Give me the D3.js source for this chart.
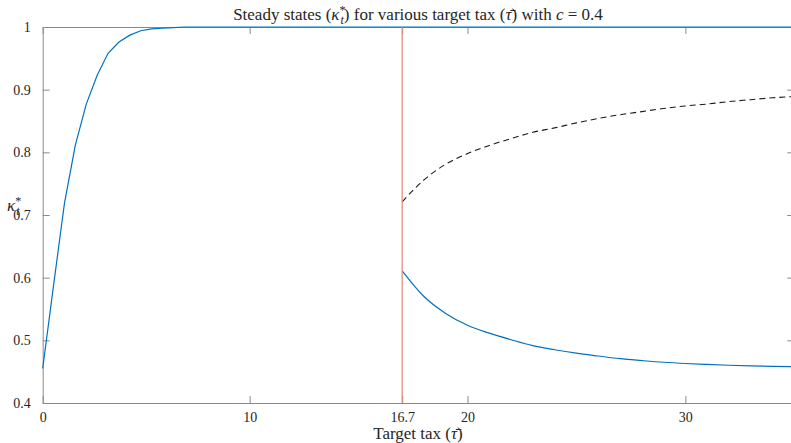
<!DOCTYPE html>
<html>
<head>
<meta charset="utf-8">
<script src="https://cdn.jsdelivr.net/npm/d3@7"></script>
<style>
  body { margin: 0; background: #fff; }
  svg { display: block; }
  text { font-family: "Liberation Serif", "DejaVu Serif", serif; fill: #262626; }
</style>
</head>
<body>
<svg id="chart"></svg>
<script>
// stable steady state, upper branch
const upperTau = [0.5, 1, 1.5, 2, 2.5, 3, 3.5, 4, 4.5, 5, 5.5, 6, 6.5, 7, 10, 15, 20, 25, 30, 35];
const upperKappa = [0.455, 0.588, 0.719, 0.812, 0.877, 0.923, 0.958, 0.976, 0.987, 0.994, 0.997, 0.998, 0.999, 1, 1, 1, 1, 1, 1, 1];

// branches past the threshold
const branchTau = [17, 18, 19, 20, 21, 22, 23, 24, 25, 26, 27, 28, 29, 30, 31, 32, 33, 34, 35];
const lowerKappa = [0.611, 0.570, 0.543, 0.524, 0.5115, 0.501, 0.4915, 0.485, 0.4795, 0.475, 0.4707, 0.4677, 0.465, 0.463, 0.4615, 0.4602, 0.4592, 0.4584, 0.4578];
const unstableKappa = [0.721, 0.756, 0.781, 0.798, 0.811, 0.822, 0.832, 0.839, 0.847, 0.854, 0.860, 0.865, 0.870, 0.874, 0.877, 0.881, 0.884, 0.887, 0.889];

const thresholdTau = [17];

const xTickValues = [0.5, 10, 17, 20, 30];
const xTickLabels = ['0', '10', '16.7', '20', '30'];
const yTickValues = [0.4, 0.5, 0.6, 0.7, 0.8, 0.9, 1];
const yTickLabels = ['0.4', '0.5', '0.6', '0.7', '0.8', '0.9', '1'];

const W = 791, H = 443;
const plotLeft = 42.7, plotTop = 27, plotRight = 794.3, plotBottom = 403;

const svg = d3.select('#chart').attr('width', W).attr('height', H);

const x = d3.scaleLinear().domain([0.5, 35]).range([plotLeft, plotRight]);
const y = d3.scaleLinear().domain([0.4, 1]).range([plotBottom, plotTop]);

const axisColor = '#8a8a8a';
const tickLen = 7;

function styleAxis(g) {
  g.select('.domain').attr('stroke', axisColor);
  g.selectAll('.tick line').attr('stroke', axisColor);
  g.selectAll('.tick text').attr('font-size', 14).attr('fill', '#262626')
    .style('font-family', '"Liberation Serif", "DejaVu Serif", serif');
}

// bottom and top axes
svg.append('g')
  .attr('transform', 'translate(0,' + plotBottom + ')')
  .call(d3.axisBottom(x).tickValues(xTickValues).tickFormat((d, i) => xTickLabels[i])
    .tickSizeInner(-tickLen).tickSizeOuter(0).tickPadding(9))
  .call(styleAxis);

svg.append('g')
  .attr('transform', 'translate(0,' + plotTop + ')')
  .call(d3.axisTop(x).tickValues(xTickValues).tickFormat('')
    .tickSizeInner(-tickLen).tickSizeOuter(0))
  .call(styleAxis);

// left and right axes
svg.append('g')
  .attr('transform', 'translate(' + plotLeft + ',0)')
  .call(d3.axisLeft(y).tickValues(yTickValues).tickFormat((d, i) => yTickLabels[i])
    .tickSizeInner(-tickLen).tickSizeOuter(0).tickPadding(12))
  .call(styleAxis);

svg.append('g')
  .attr('transform', 'translate(' + plotRight + ',0)')
  .call(d3.axisRight(y).tickValues(yTickValues).tickFormat('')
    .tickSizeInner(-tickLen).tickSizeOuter(0))
  .call(styleAxis);

// curves
const upper = upperTau.map((t, i) => [t, upperKappa[i]]);
const lower = branchTau.map((t, i) => [t, lowerKappa[i]]);
const unstable = branchTau.map((t, i) => [t, unstableKappa[i]]);

const straight = d3.line().x(d => x(d[0])).y(d => y(d[1]));
const smooth = d3.line().x(d => x(d[0])).y(d => y(d[1])).curve(d3.curveMonotoneX);

svg.append('path').datum(upper)
  .attr('d', straight).attr('fill', 'none')
  .attr('stroke', '#0072BD').attr('stroke-width', 1.2);

svg.append('path').datum(lower)
  .attr('d', smooth).attr('fill', 'none')
  .attr('stroke', '#0072BD').attr('stroke-width', 1.2);

svg.append('path').datum(unstable)
  .attr('d', smooth).attr('fill', 'none')
  .attr('stroke', '#1a1a1a').attr('stroke-width', 1.1)
  .attr('stroke-dasharray', '6,4');

// threshold line
svg.selectAll('.thr').data(thresholdTau).enter().append('line')
  .attr('x1', d => x(d)).attr('x2', d => x(d))
  .attr('y1', y(0.4)).attr('y2', y(1))
  .attr('stroke', '#d98a78').attr('stroke-width', 1.2);

// title
const title = svg.append('text')
  .attr('x', 418).attr('y', 20)
  .attr('text-anchor', 'middle').attr('font-size', 17);
title.append('tspan').text('Steady states (');
title.append('tspan').attr('font-style', 'italic').text('κ');
title.append('tspan').attr('font-size', 12).attr('dy', -6).text('*');
title.append('tspan').attr('font-size', 12).attr('font-style', 'italic').attr('dx', -5).attr('dy', 10).text('t');
title.append('tspan').attr('dy', -4).text(') for various target tax (');
title.append('tspan').attr('font-style', 'italic').text('τ̄');
title.append('tspan').text(') with ');
title.append('tspan').attr('font-style', 'italic').text('c');
title.append('tspan').text(' = 0.4');

// x label
const xl = svg.append('text')
  .attr('x', 418).attr('y', 439)
  .attr('text-anchor', 'middle').attr('font-size', 17);
xl.append('tspan').text('Target tax (');
xl.append('tspan').attr('font-style', 'italic').text('τ̄');
xl.append('tspan').text(')');

// y label
const yl = svg.append('text')
  .attr('x', 7).attr('y', 211).attr('font-size', 17);
yl.append('tspan').attr('font-style', 'italic').text('κ');
yl.append('tspan').attr('font-size', 12).attr('dy', -6).text('*');
yl.append('tspan').attr('font-size', 12).attr('font-style', 'italic').attr('dx', -5).attr('dy', 10).text('t');
</script>
</body>
</html>
